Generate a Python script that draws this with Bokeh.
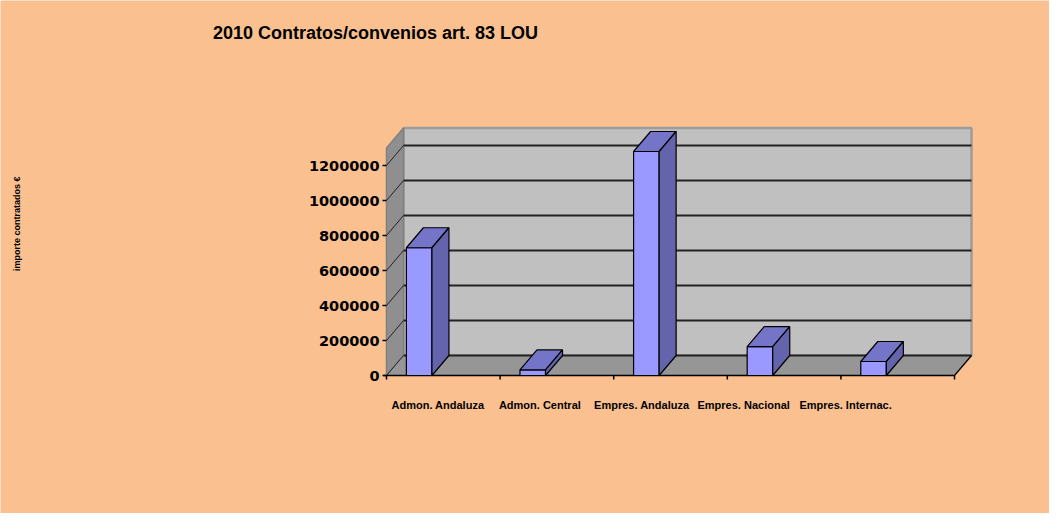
from bokeh.plotting import figure
from bokeh.models import Range1d, Label
from bokeh.embed import file_html
from bokeh.resources import INLINE
from bokeh.core.properties import value
import math

# ---------------- data ----------------
categories = ["Admon. Andaluza", "Admon. Central", "Empres. Andaluza",
              "Empres. Nacional", "Empres. Internac."]
importes = [730000, 32000, 1280000, 165000, 80000]
tick_values = [0, 200000, 400000, 600000, 800000, 1000000, 1200000]
tick_labels = ["0", "200000", "400000", "600000", "800000", "1000000", "1200000"]
y_max = 1300000
title_text = "2010 Contratos/convenios art. 83 LOU"
y_title = "importe  contratados \u20ac"

# ---------------- layout ----------------
W, H = 1049, 513
PX_CAT = 113.6              # pixels per category
PX_EUR = 35.0 / 200000      # pixels per euro
X0 = 386                    # canvas x of category origin
Y0 = 375                    # canvas y (from top) of value 0
DX = 17 / PX_CAT            # depth offset (data units)
DY = 20 / PX_EUR
n = len(categories)

p = figure(width=W, height=H, output_backend="svg", toolbar_location=None, tools="",
           x_range=Range1d(-X0 / PX_CAT, (W - X0) / PX_CAT),
           y_range=Range1d((Y0 - H) / PX_EUR, Y0 / PX_EUR),
           x_axis_location=None, y_axis_location=None, min_border=0)
p.background_fill_color = "#FAC090"
p.border_fill_color = "#FAC090"
p.outline_line_color = None
p.grid.visible = False

# back wall
p.quad(left=[DX], right=[n + DX], bottom=[DY], top=[y_max + DY],
       fill_color="#C0C0C0", line_color="#9C9C9C", line_width=2.5)
# left wall
p.patch([0, DX, DX, 0], [0, DY, y_max + DY, y_max],
        fill_color="#8F8F8F", line_color="#808080", line_width=1.5)
# floor
p.patch([0, n, n + DX, DX], [0, 0, DY, DY],
        fill_color="#969696", line_color="#888888", line_width=1)

# gridlines on back wall and left wall
for v in tick_values:
    p.line([DX, n + DX], [v + DY, v + DY], line_color="#222222", line_width=1.8)
    p.line([0, DX], [v, v + DY], line_color="#222222", line_width=1)

# axes lines
p.line([-3 / PX_CAT, n], [0, 0], line_color="black", line_width=1.6)
p.line([n, n + DX], [0, DY], line_color="black", line_width=1.2)
for v in tick_values:
    p.line([-4 / PX_CAT, 0], [v, v], line_color="black", line_width=1.5)
for i in range(n + 1):
    p.line([i, i], [0, -4 / PX_EUR], line_color="black", line_width=1.5)

# bars
bl = [i + 0.175 for i in range(n)]
br = [i + 0.400 for i in range(n)]
p.quad(left=bl, right=br, bottom=[0] * n, top=importes,
       fill_color="#9999FF", line_color="black", line_width=1.2)
top_xs = [[l, r, r + DX, l + DX] for l, r in zip(bl, br)]
top_ys = [[v, v, v + DY, v + DY] for v in importes]
p.patches(top_xs, top_ys, fill_color="#7474C8", line_color="black", line_width=1.2)
side_xs = [[r, r + DX, r + DX, r] for r in br]
side_ys = [[0, DY, v + DY, v] for v in importes]
p.patches(side_xs, side_ys, fill_color="#6464AC", line_color="black", line_width=1.2)

# y tick labels
p.text(x=[-7 / PX_CAT] * len(tick_values), y=tick_values, text=tick_labels,
       text_font=value("DejaVu Sans"), text_font_style="bold", text_font_size="14.5px",
       text_align="right", text_baseline="middle", text_color="black")

# category labels
p.text(x=[0.453 + 0.897 * i for i in range(n)], y=[-29 / PX_EUR] * n, text=categories,
       text_font=value("Liberation Sans"), text_font_style="bold", text_font_size="11px",
       text_align="center", text_baseline="middle", text_color="black")

# title
p.add_layout(Label(x=375, y=H - 32, x_units="screen", y_units="screen",
                   text=title_text, text_font="Liberation Sans", text_font_style="bold",
                   text_font_size="18px", text_align="center", text_baseline="middle",
                   text_color="black"))
# y axis title
p.add_layout(Label(x=16, y=H - 222, x_units="screen", y_units="screen",
                   text=y_title, angle=math.pi / 2, text_font="Liberation Sans",
                   text_font_style="bold", text_font_size="9px", text_align="center",
                   text_baseline="middle", text_color="black"))

open("out.html", "w").write(file_html(p, INLINE))
